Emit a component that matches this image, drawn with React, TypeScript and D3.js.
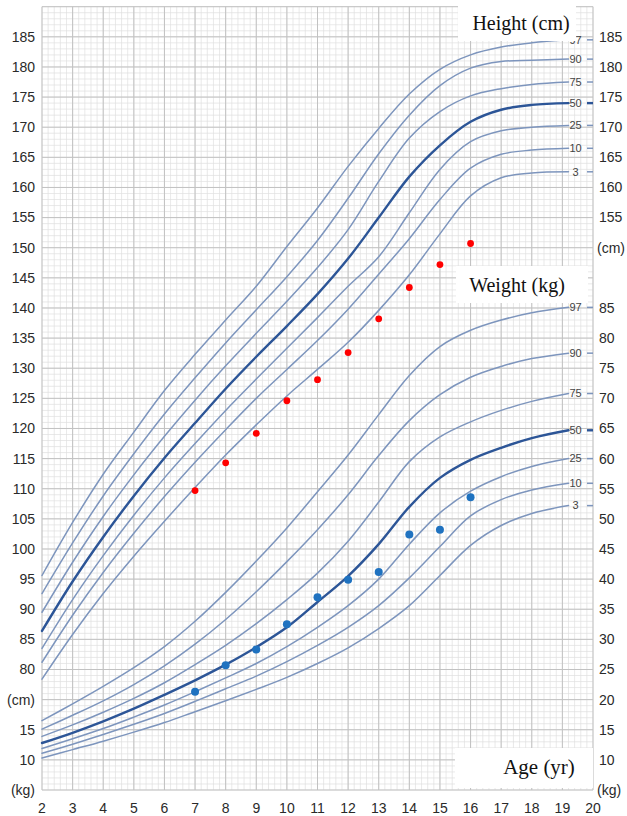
import { useMemo } from "react";
import * as d3 from "d3";

const ages = [2, 3, 4, 5, 6, 7, 8, 9, 10, 11, 12, 13, 14, 15, 16, 17, 18, 19.2];
const percentiles = ["3", "10", "25", "50", "75", "90", "97"];

// height (cm), one array per percentile
const heightP3 = [78.4, 85.8, 92.6, 98.8, 104.6, 110.2, 115.6, 120.6, 125.4, 129.8, 134.3, 139.6, 145.5, 152.3, 158.6, 161.6, 162.4, 162.6];
const heightP10 = [81.2, 89.0, 96.1, 102.6, 108.7, 114.4, 119.8, 125.0, 129.8, 134.6, 139.8, 145.6, 151.5, 158.0, 163.2, 165.5, 166.2, 166.5];
const heightP25 = [83.5, 91.6, 98.9, 105.6, 111.8, 117.5, 123.0, 128.2, 133.3, 138.4, 143.6, 148.5, 155.8, 163.0, 167.6, 169.4, 170.0, 170.3];
const heightP50 = [86.4, 94.6, 102.0, 108.8, 115.1, 120.9, 126.6, 131.9, 137.0, 142.3, 148.2, 155.0, 161.8, 167.0, 170.9, 172.9, 173.7, 174.0];
const heightP75 = [89.5, 97.8, 105.4, 112.3, 118.7, 124.7, 130.4, 135.8, 141.1, 146.7, 153.0, 161.0, 168.2, 172.6, 175.2, 176.4, 177.1, 177.5];
const heightP90 = [92.6, 101.0, 108.8, 115.8, 122.4, 128.4, 134.2, 139.7, 145.2, 151.2, 158.2, 165.6, 172.0, 176.9, 179.8, 180.9, 181.1, 181.3];
const heightP97 = [95.6, 104.4, 112.4, 119.4, 126.3, 132.3, 138.0, 143.6, 150.2, 156.6, 163.5, 169.8, 175.5, 179.6, 182.0, 183.3, 184.0, 184.5];

// weight (kg)
const weightP3 = [10.3, 11.7, 13.1, 14.6, 16.2, 18.0, 19.8, 21.7, 23.7, 26.0, 28.6, 31.8, 35.6, 40.6, 45.6, 48.9, 50.9, 52.2];
const weightP10 = [11.1, 12.6, 14.2, 15.9, 17.7, 19.7, 21.8, 23.9, 26.3, 29.0, 32.0, 35.6, 40.2, 45.4, 50.5, 53.2, 54.8, 55.9];
const weightP25 = [11.9, 13.5, 15.2, 17.1, 19.1, 21.3, 23.6, 26.0, 28.8, 32.0, 35.6, 40.0, 45.8, 51.0, 54.6, 57.0, 58.7, 60.0];
const weightP50 = [12.8, 14.5, 16.4, 18.5, 20.8, 23.2, 25.8, 28.7, 32.0, 36.2, 40.5, 45.8, 52.0, 56.8, 59.8, 61.8, 63.4, 64.7];
const weightP75 = [13.9, 15.8, 17.9, 20.2, 22.8, 25.8, 29.0, 32.6, 36.6, 41.0, 46.3, 52.8, 59.5, 63.6, 66.1, 68.0, 69.5, 70.8];
const weightP90 = [15.1, 17.4, 19.8, 22.5, 25.6, 29.2, 33.3, 37.9, 42.9, 48.2, 54.0, 60.5, 66.3, 70.6, 73.5, 75.3, 76.6, 77.5];
const weightP97 = [16.5, 19.3, 22.2, 25.3, 28.8, 33.0, 37.8, 43.0, 48.5, 54.5, 60.6, 67.3, 73.8, 78.6, 81.3, 83.0, 84.2, 85.1];

// the child's measurements
const visitAges = [7, 8, 9, 10, 11, 12, 13, 14, 15, 16];
const childHeight = [109.7, 114.3, 119.2, 124.6, 128.1, 132.6, 138.2, 143.4, 147.2, 150.7];
const childWeight = [21.3, 25.7, 28.3, 32.5, 37.0, 39.9, 41.2, 47.4, 48.2, 53.6];

// tick labels
const ageTicks = d3.range(2, 21);
const heightTicksLeft = d3.range(185, 79, -5);
const heightTicksRight = d3.range(185, 154, -5);
const weightTicksLeft = [15, 10];
const weightTicksRight = d3.range(85, 9, -5);

const WEIGHT_OFFSET = 55; // weight w sits on the grid row of height w + 55

const heightSeries = [heightP3, heightP10, heightP25, heightP50, heightP75, heightP90, heightP97];
const weightSeries = [weightP3, weightP10, weightP25, weightP50, weightP75, weightP90, weightP97];

const W = 627;
const H = 816;
const numFont = "'Liberation Sans', Arial, sans-serif";
const serif = "'Liberation Serif', 'Times New Roman', serif";

export default function App() {
  const x = useMemo(() => d3.scaleLinear().domain([2, 20]).range([42, 593]), []);
  // one vertical scale in height units; weights are shifted by WEIGHT_OFFSET
  const y = useMemo(() => d3.scaleLinear().domain([60, 190]).range([790, 6.7]), []);
  const yw = (w: number) => y(w + WEIGHT_OFFSET);

  const lineH = d3
    .line<number>()
    .x((_, i) => x(ages[i]))
    .y((d) => y(d))
    .curve(d3.curveCatmullRom.alpha(0.5));
  const lineW = d3
    .line<number>()
    .x((_, i) => x(ages[i]))
    .y((d) => yw(d))
    .curve(d3.curveCatmullRom.alpha(0.5));

  const minorX = d3.range(2, 20.001, 0.2);
  const minorY = d3.range(60, 190.001, 1);
  const majorX = d3.range(2, 20.001, 1);
  const majorY = d3.range(60, 190.001, 5);

  const [x0, x1] = x.range();
  const endX = x(ages[ages.length - 1]);

  const curveColor = (p: string) => (p === "50" ? "#2c5597" : "#7d95bd");
  const curveWidth = (p: string) => (p === "50" ? 2.4 : 1.5);

  const pctLabel = (p: string, v: number, key: string) => (
    <g key={key}>
      <text
        x={endX + 7}
        y={v}
        dy="0.35em"
        textAnchor="middle"
        fontFamily={numFont}
        fontSize={11}
        fill="#444"
      >
        {p}
      </text>
      <line x1={x1 - 6} x2={x1} y1={v} y2={v} stroke={curveColor(p)} strokeWidth={curveWidth(p)} />
    </g>
  );

  return (
    <svg
      width={W}
      height={H}
      style={{ position: "absolute", left: 0, top: 0, background: "#fff" }}
    >
      {/* grid */}
      <g>
        {minorX.map((a) => (
          <line key={"mx" + a} x1={x(a)} x2={x(a)} y1={y(190)} y2={y(60)} stroke="#e0e0e0" strokeWidth={0.7} />
        ))}
        {minorY.map((v) => (
          <line key={"my" + v} x1={x0} x2={x1} y1={y(v)} y2={y(v)} stroke="#e0e0e0" strokeWidth={0.7} />
        ))}
        {majorX.map((a) => (
          <line key={"Mx" + a} x1={x(a)} x2={x(a)} y1={y(190)} y2={y(60)} stroke="#c2c2c2" strokeWidth={1} />
        ))}
        {majorY.map((v) => (
          <line key={"My" + v} x1={x0} x2={x1} y1={y(v)} y2={y(v)} stroke="#c2c2c2" strokeWidth={1} />
        ))}
      </g>

      {/* percentile curves */}
      <g fill="none" strokeLinecap="round">
        {heightSeries.map((s, i) => (
          <path key={"h" + i} d={lineH(s) || ""} stroke={curveColor(percentiles[i])} strokeWidth={curveWidth(percentiles[i])} />
        ))}
        {weightSeries.map((s, i) => (
          <path key={"w" + i} d={lineW(s) || ""} stroke={curveColor(percentiles[i])} strokeWidth={curveWidth(percentiles[i])} />
        ))}
      </g>

      {/* percentile labels at the right end */}
      {heightSeries.map((s, i) => pctLabel(percentiles[i], y(s[s.length - 1]), "hl" + i))}
      {weightSeries.map((s, i) => pctLabel(percentiles[i], yw(s[s.length - 1]), "wl" + i))}

      {/* child's data */}
      {visitAges.map((a, i) => (
        <circle key={"rh" + a} cx={x(a)} cy={y(childHeight[i])} r={3.4} fill="#ff0000" />
      ))}
      {visitAges.map((a, i) => (
        <circle key={"bw" + a} cx={x(a)} cy={yw(childWeight[i])} r={4} fill="#1f72c0" />
      ))}

      {/* caption boxes */}
      <rect x={458} y={6} width={118} height={35} fill="#fff" />
      <text x={521} y={30} textAnchor="middle" fontFamily={serif} fontSize={20} fill="#111">
        Height (cm)
      </text>
      <rect x={456} y={266} width={132} height={37} fill="#fff" />
      <text x={517} y={292} textAnchor="middle" fontFamily={serif} fontSize={20} fill="#111">
        Weight (kg)
      </text>
      <rect x={455} y={748} width={138} height={40} fill="#fff" />
      <text x={539} y={774} textAnchor="middle" fontFamily={serif} fontSize={21} fill="#111">
        Age (yr)
      </text>

      {/* axis labels */}
      <g fontFamily={numFont} fontSize={14} fill="#2a2a2a">
        {ageTicks.map((a) => (
          <text key={"a" + a} x={x(a)} y={813} textAnchor="middle">
            {a}
          </text>
        ))}
        {heightTicksLeft.map((h) => (
          <text key={"hl" + h} x={35} y={y(h)} dy="0.35em" textAnchor="end">
            {h}
          </text>
        ))}
        <text x={35} y={y(75)} dy="0.35em" textAnchor="end">(cm)</text>
        {weightTicksLeft.map((w) => (
          <text key={"wl" + w} x={35} y={yw(w)} dy="0.35em" textAnchor="end">
            {w}
          </text>
        ))}
        <text x={35} y={yw(5)} dy="0.35em" textAnchor="end">(kg)</text>

        {heightTicksRight.map((h) => (
          <text key={"hr" + h} x={599} y={y(h)} dy="0.35em">
            {h}
          </text>
        ))}
        <text x={597} y={y(150)} dy="0.35em">(cm)</text>
        {weightTicksRight.map((w) => (
          <text key={"wr" + w} x={599} y={yw(w)} dy="0.35em">
            {w}
          </text>
        ))}
        <text x={597} y={yw(5)} dy="0.35em">(kg)</text>
      </g>
    </svg>
  );
}
